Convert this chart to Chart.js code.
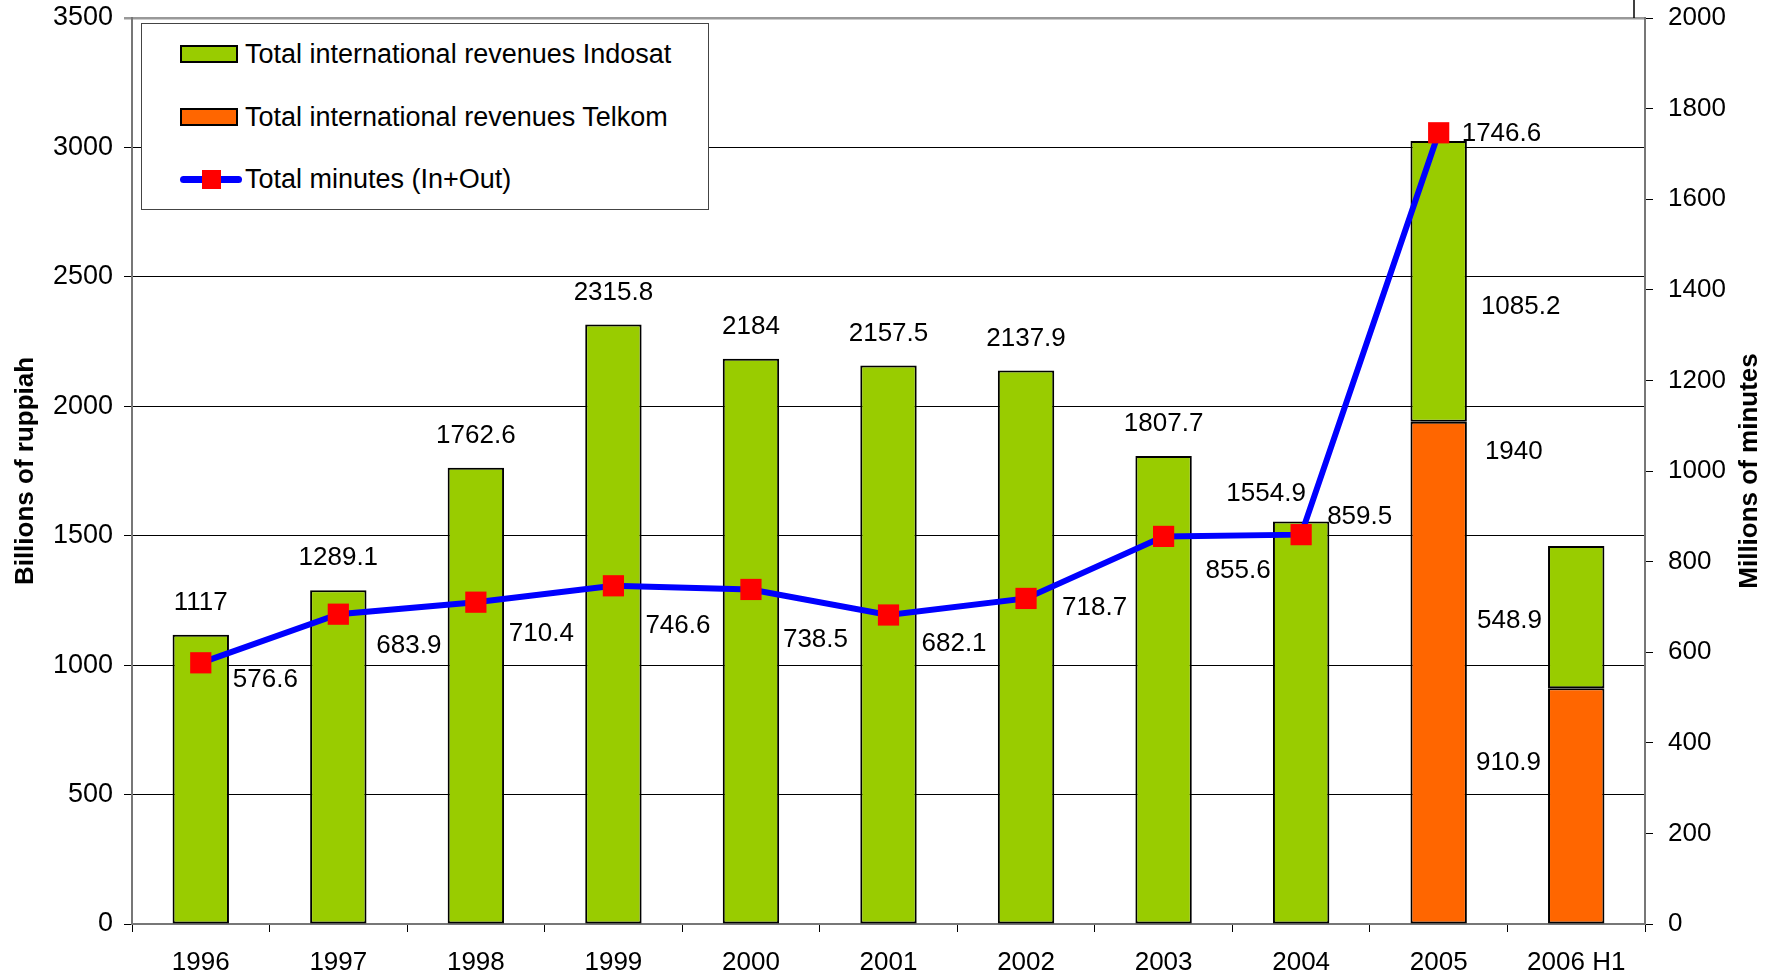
<!DOCTYPE html>
<html>
<head>
<meta charset="utf-8">
<script src="https://cdn.jsdelivr.net/npm/chart.js@4.4.1/dist/chart.umd.min.js"></script>
<style>
  body { margin: 0; background: #fff; }
  #wrap { position: relative; width: 1773px; height: 978px; }
  #legend { position: absolute; left: 141px; top: 23px; width: 566px; height: 185px;
            border: 1px solid #444; background: #fff; font-family: "Liberation Sans", Arial, sans-serif;
            font-size: 27px; color: #000; }
  .row { position: absolute; left: 0; height: 32px; line-height: 32px; white-space: nowrap; }
  .row span.txt { position: absolute; left: 103px; top: 0; }
  .swatch { position: absolute; left: 38px; top: 7px; width: 54px; height: 14px; border: 2px solid #000; }
  .lineKey { position: absolute; left: 38px; top: 13px; width: 62px; height: 7px; background: #0000ff; border-radius: 4px; }
  .lineKey i { position: absolute; left: 22px; top: -6px; width: 19px; height: 19px; background: #ff0000; }
</style>
</head>
<body>
<div id="wrap">
  <canvas id="chart"></canvas>
  <div id="legend"></div>
</div>
<script>
var years = ['1996', '1997', '1998', '1999', '2000', '2001', '2002', '2003', '2004', '2005', '2006 H1'];
var indosatRevenue = [1117, 1289.1, 1762.6, 2315.8, 2184, 2157.5, 2137.9, 1807.7, 1554.9, 1085.2, 548.9];
var telkomRevenue = [null, null, null, null, null, null, null, null, null, 1940, 910.9];
var totalMinutes = [576.6, 683.9, 710.4, 746.6, 738.5, 682.1, 718.7, 855.6, 859.5, 1746.6, null];
var seriesNames = ['Total international revenues Indosat', 'Total international revenues Telkom', 'Total minutes (In+Out)'];

var green = '#99cc00';
var orange = '#ff6600';
var FONT = '"Liberation Sans", Arial, sans-serif';

// label placement (pixels) for the minutes labels, beside each point
var minuteLabelShift = [[32, 17], [38, 32], [33, 32], [32, 40], [32, 50], [33, 29], [36, 9], [42, 34], [26, -18], [23, 1]];

function plainTick(v) { return String(v); }

var labelPlugin = {
    id: 'valueLabels',
    afterDatasetsDraw: function(chart) {
        var ctx = chart.ctx;
        var indo = chart.getDatasetMeta(0).data;
        var tel = chart.getDatasetMeta(1).data;
        var pts = chart.getDatasetMeta(2).data;
        ctx.save();
        ctx.font = '26px ' + FONT;
        ctx.fillStyle = '#000';
        ctx.textBaseline = 'middle';

        // totals above the single bars
        ctx.textAlign = 'center';
        for (var i = 0; i < 9; i++) {
            var b = indo[i];
            var dx = (i === 8) ? -35 : 0;
            var dy = (i === 8) ? 4 : 0;
            ctx.fillText(String(indosatRevenue[i]), b.x + dx, b.y - 32 + dy);
        }

        // stacked segments 2005 / 2006 H1
        var g5 = indo[9], o5 = tel[9], g6 = indo[10], o6 = tel[10];
        ctx.textAlign = 'left';
        ctx.fillText(String(indosatRevenue[9]), g5.x + g5.width / 2 + 14, g5.y + 166);
        ctx.fillText(String(telkomRevenue[9]), o5.x + o5.width / 2 + 18, o5.y + 30);
        ctx.textAlign = 'right';
        ctx.fillText(String(indosatRevenue[10]), g6.x - g6.width / 2 - 6, g6.y + 75);
        ctx.fillText(String(telkomRevenue[10]), o6.x - o6.width / 2 - 7, o6.y + 75);

        // minutes
        ctx.textAlign = 'left';
        for (var j = 0; j < totalMinutes.length; j++) {
            if (totalMinutes[j] === null) continue;
            var p = pts[j];
            ctx.fillText(String(totalMinutes[j]), p.x + minuteLabelShift[j][0], p.y + minuteLabelShift[j][1]);
        }
        ctx.restore();
    },
    afterDraw: function(chart) {
        var ctx = chart.ctx;
        var area = chart.chartArea;
        ctx.save();
        // right axis title, reading bottom to top
        ctx.font = 'bold 26px ' + FONT;
        ctx.fillStyle = '#000';
        ctx.textAlign = 'center';
        ctx.textBaseline = 'middle';
        ctx.translate(1750, (area.top + area.bottom) / 2);
        ctx.rotate(-Math.PI / 2);
        ctx.fillText('Millions of minutes', 0, 0);
        ctx.restore();
        // small frame edge at the top right
        ctx.save();
        ctx.strokeStyle = '#000';
        ctx.lineWidth = 1.5;
        ctx.beginPath();
        ctx.moveTo(area.right - 11, 0);
        ctx.lineTo(area.right - 11, area.top);
        ctx.stroke();
        ctx.restore();
    }
};

function fitVertical(w) {
    return function(scale) {
        scale.width = w;
        scale.paddingTop = 0;
        scale.paddingBottom = 0;
    };
}

var ctx = document.getElementById('chart').getContext('2d');
var chart = new Chart(ctx, {
    type: 'bar',
    data: {
        labels: years,
        datasets: [{
            label: seriesNames[0],
            data: indosatRevenue,
            backgroundColor: green,
            borderColor: '#000',
            borderWidth: 2,
            borderSkipped: false,
            order: 2,
            yAxisID: 'y'
        }, {
            label: seriesNames[1],
            data: telkomRevenue,
            backgroundColor: orange,
            borderColor: '#000',
            borderWidth: 2,
            borderSkipped: false,
            order: 1,
            yAxisID: 'y'
        }, {
            type: 'line',
            label: seriesNames[2],
            data: totalMinutes,
            borderColor: '#0000ff',
            borderWidth: 6,
            pointStyle: 'rect',
            pointRadius: 15,
            pointBackgroundColor: '#ff0000',
            pointBorderWidth: 0,
            tension: 0,
            spanGaps: false,
            order: 0,
            yAxisID: 'y2'
        }]
    },
    options: {
        responsive: true,
        maintainAspectRatio: false,
        animation: false,
        layout: { padding: { top: 18, left: 0, right: 0, bottom: 0 } },
        datasets: { bar: { barPercentage: 0.41, categoryPercentage: 1 } },
        plugins: {
            legend: { display: false },
            tooltip: { enabled: false }
        },
        scales: {
            x: {
                stacked: true,
                afterFit: function(scale) { scale.height = 54; scale.paddingLeft = 0; scale.paddingRight = 0; },
                grid: { drawOnChartArea: false, drawTicks: true, tickLength: 8, color: '#000', offset: true },
                border: { color: '#777', width: 2 },
                ticks: { color: '#000', font: { family: FONT, size: 26 }, padding: 15, maxRotation: 0 }
            },
            y: {
                stacked: true,
                position: 'left',
                min: 0,
                max: 3500,
                afterFit: fitVertical(132),
                grid: {
                    color: function(c) { return c.tick && c.tick.value === 3500 ? '#999' : '#000'; },
                    lineWidth: function(c) { return c.tick && c.tick.value === 3500 ? 2.5 : 1; },
                    tickLength: 8
                },
                border: { color: '#777', width: 2 },
                ticks: { stepSize: 500, color: '#000', font: { family: FONT, size: 27 }, padding: 11, callback: plainTick },
                title: {
                    display: true,
                    text: 'Billions of ruppiah',
                    color: '#000',
                    font: { family: FONT, size: 26, weight: 'bold' },
                    padding: { top: 10, bottom: 0 }
                }
            },
            y2: {
                position: 'right',
                min: 0,
                max: 2000,
                afterFit: fitVertical(128),
                grid: { drawOnChartArea: false, tickLength: 8, color: '#000' },
                border: { color: '#777', width: 2 },
                ticks: { stepSize: 200, color: '#000', font: { family: FONT, size: 26 }, padding: 15, callback: plainTick }
            }
        }
    },
    plugins: [labelPlugin]
});

// legend box inside the plot
var legendColors = [green, orange];
var rowCenters = [30, 93, 155];
var html = '';
for (var k = 0; k < seriesNames.length; k++) {
    var key = k < 2 ? '<span class="swatch" style="background:' + legendColors[k] + '"></span>'
                    : '<span class="lineKey"><i></i></span>';
    html += '<div class="row" style="top:' + (rowCenters[k] - 16) + 'px; width:100%">' + key +
            '<span class="txt">' + seriesNames[k] + '</span></div>';
}
document.getElementById('legend').innerHTML = html;
</script>
</body>
</html>
